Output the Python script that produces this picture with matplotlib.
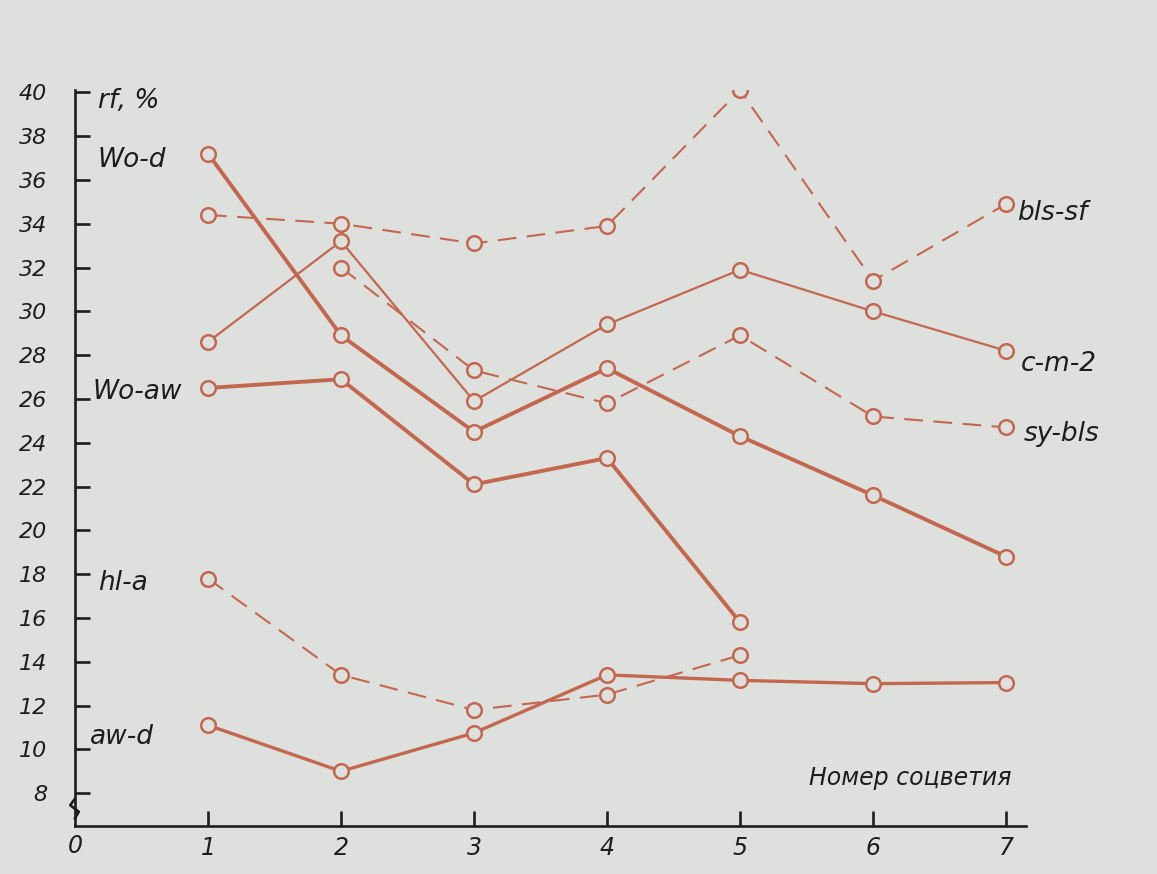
import matplotlib
matplotlib.use("Agg")
import matplotlib.pyplot as plt
from matplotlib.transforms import blended_transform_factory

# ---- data ----
x_full = [1, 2, 3, 4, 5, 6, 7]
x_to5 = [1, 2, 3, 4, 5]
x_from2 = [2, 3, 4, 5, 6, 7]

wo_d = [37.2, 28.9, 24.5, 27.4, 24.3, 21.6, 18.8]
wo_aw = [26.5, 26.9, 22.1, 23.3, 15.8]
c_m_2 = [28.6, 33.2, 25.9, 29.4, 31.9, 30.0, 28.2]
bls_sf = [34.4, 34.0, 33.1, 33.9, 40.1, 31.4, 34.9]
sy_bls = [32.0, 27.3, 25.8, 28.9, 25.2, 24.7]
hl_a = [17.8, 13.4, 11.8, 12.5, 14.3]
aw_d = [11.1, 9.0, 10.75, 13.4, 13.15, 13.0, 13.05]

y_ticks = [8, 10, 12, 14, 16, 18, 20, 22, 24, 26, 28, 30, 32, 34, 36, 38, 40]
x_ticks = [1, 2, 3, 4, 5, 6, 7]

BG = "#dde0dd"
LINE = "#c4674f"
INK = "#1d1d1d"

fig = plt.figure(figsize=(11.57, 8.74), dpi=100, facecolor=BG)
ax = fig.add_axes([0.0648, 0.0549, 0.822, 0.842])
ax.set_facecolor(BG)

dash = (0, (9, 5))
series = [
    (x_full, wo_d, "-", 2.8),
    (x_to5, wo_aw, "-", 2.8),
    (x_full, c_m_2, "-", 1.6),
    (x_full, bls_sf, dash, 1.5),
    (x_from2, sy_bls, dash, 1.5),
    (x_to5, hl_a, dash, 1.5),
    (x_full, aw_d, "-", 2.4),
]
for xs, ys, ls, lw in series:
    ax.plot(xs, ys, linestyle=ls, lw=lw, color=LINE, zorder=2,
            solid_capstyle="butt", dash_capstyle="butt")
for xs, ys, ls, lw in series:
    ax.plot(xs, ys, linestyle="none", marker="o", markersize=10.5,
            markerfacecolor=BG, markeredgecolor=LINE, markeredgewidth=1.8,
            zorder=3)

ax.set_xlim(0, 7.15)
ax.set_ylim(6.5, 40.1)

for side in ("top", "right"):
    ax.spines[side].set_visible(False)
for side in ("left", "bottom"):
    ax.spines[side].set_color(INK)
    ax.spines[side].set_linewidth(1.9)

ax.set_yticks(y_ticks)
ax.set_yticklabels([str(v) for v in y_ticks])
ax.set_xticks(x_ticks)
ax.set_xticklabels([str(v) for v in x_ticks])
ax.tick_params(axis="y", direction="in", length=11, width=1.9, color=INK,
               pad=20, labelsize=16, labelcolor=INK)
ax.tick_params(axis="x", direction="in", length=11, width=1.9, color=INK,
               pad=7, labelsize=17, labelcolor=INK)
for lab in ax.get_yticklabels() + ax.get_xticklabels():
    lab.set_fontstyle("italic")

# origin label
ax.text(0, 6.5, "0", transform=ax.transData, ha="center", va="top",
        fontsize=17, style="italic", color=INK,
        position=(0.0, 6.5 - 0.35), clip_on=False)

# axis break squiggle on the y spine
bt = blended_transform_factory(ax.transAxes, ax.transData)
ax.plot([0.0, -0.005, 0.004, 0.0], [7.75, 7.45, 7.15, 6.85], transform=bt,
        color=INK, lw=1.9, clip_on=False, zorder=4)

tkw = dict(fontsize=19, style="italic", color=INK, va="center", clip_on=False)
ax.text(0.17, 39.6, "rf, %", ha="left", **tkw)
ax.text(0.17, 36.9, "Wo-d", ha="left", **tkw)
ax.text(0.13, 26.3, "Wo-aw", ha="left", **tkw)
ax.text(0.17, 17.6, "hl-a", ha="left", **tkw)
ax.text(0.11, 10.55, "aw-d", ha="left", **tkw)
ax.text(7.08, 34.5, "bls-sf", ha="left", **tkw)
ax.text(7.11, 27.6, "c-m-2", ha="left", **tkw)
ax.text(7.13, 24.4, "sy-bls", ha="left", **tkw)
ax.text(7.04, 8.7, "Номер соцветия", ha="right", fontsize=17, style="italic",
        color=INK, va="center")

fig.savefig("out.png", dpi=100, facecolor=BG)
